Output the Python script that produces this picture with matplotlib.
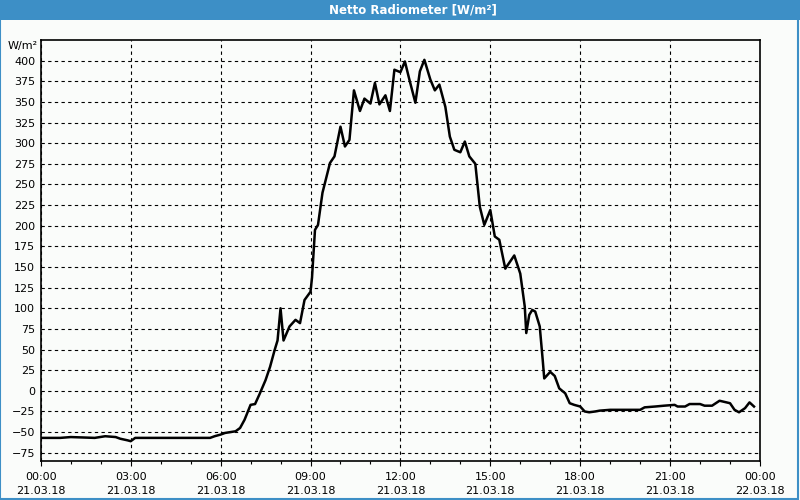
import matplotlib.pyplot as plt
from matplotlib.patches import Rectangle
from matplotlib.ticker import MultipleLocator

# time in hours since 21.03.18 00:00, net radiation in W/m²
hours = [0.0, 0.65, 1.0, 1.8, 2.15, 2.5, 2.65, 2.9, 3.0, 3.15, 3.65, 4.3, 5.5,
         5.65, 5.8, 6.0, 6.15, 6.5, 6.65, 6.8, 7.0, 7.15, 7.3, 7.5, 7.65, 7.8,
         7.9, 8.0, 8.1, 8.3, 8.5, 8.65, 8.8, 9.0, 9.05, 9.15, 9.25, 9.4, 9.65,
         9.8, 10.0, 10.15, 10.3, 10.45, 10.65, 10.8, 11.0, 11.15, 11.3, 11.5,
         11.65, 11.8, 12.0, 12.15, 12.3, 12.5, 12.65, 12.8, 13.0, 13.15, 13.3,
         13.5, 13.65, 13.8, 14.0, 14.15, 14.3, 14.5, 14.65, 14.8, 15.0, 15.15,
         15.3, 15.5, 15.65, 15.8, 16.0, 16.15, 16.2, 16.3, 16.4, 16.5, 16.65,
         16.75, 16.8, 17.0, 17.15, 17.3, 17.5, 17.65, 17.8, 18.0, 18.15, 18.3,
         18.5, 18.65, 19.0, 20.0, 20.15, 20.5, 20.8, 21.15, 21.25, 21.5, 21.65,
         22.0, 22.15, 22.4, 22.65, 23.0, 23.15, 23.3, 23.5, 23.65, 23.8]
values = [-57, -57, -56, -57, -55, -56, -58, -60, -61, -57, -57, -57, -57,
          -57, -55, -53, -51, -49, -45, -35, -17, -16, -4, 13, 29, 49,
          61, 100, 61, 78, 86, 82, 110, 120, 137, 195, 201, 240, 276,
          284, 320, 296, 304, 364, 339, 354, 348, 373, 347, 358,
          339, 389, 386, 399, 377, 349, 387, 401, 377, 364, 371,
          344, 308, 292, 289, 302, 284, 275, 223, 201, 219, 187,
          183, 148, 156, 164, 142, 102, 70, 92, 98, 96, 78,
          37, 15, 23, 18, 3, -3, -15, -17, -19, -25, -26,
          -25, -24, -23, -23, -20, -19, -18, -17, -19, -19, -16,
          -16, -18, -18, -12, -15, -23, -26, -21, -14, -19]

tick_hours = [0, 3, 6, 9, 12, 15, 18, 21, 24]
tick_labels = ["00:00\n21.03.18", "03:00\n21.03.18", "06:00\n21.03.18",
               "09:00\n21.03.18", "12:00\n21.03.18", "15:00\n21.03.18",
               "18:00\n21.03.18", "21:00\n21.03.18", "00:00\n22.03.18"]

bg = "#fafcfa"
blue = "#3d8fc6"

fig = plt.figure(figsize=(8, 5), dpi=100, facecolor=bg)

# title bar and window frame
fig.patches.append(Rectangle((0, 0.96), 1, 0.04, transform=fig.transFigure,
                             facecolor=blue, edgecolor="none"))
fig.patches.append(Rectangle((0, 0.003), 0.998, 0.997, transform=fig.transFigure,
                             facecolor="none", edgecolor=blue, linewidth=1.5))
fig.text(0.516, 0.98, "Netto Radiometer [W/m²]", color="white",
         fontsize=8.5, fontweight="bold", ha="center", va="center")

ax = fig.add_axes([0.051, 0.078, 0.899, 0.842], facecolor=bg)
ax.plot(hours, values, color="black", linewidth=1.8)

ax.set_xlim(0, 24)
ax.set_ylim(-85, 425)
ax.set_xticks(tick_hours)
ax.set_xticklabels(tick_labels, fontsize=8, linespacing=1.6)
ax.xaxis.set_minor_locator(MultipleLocator(1))
ax.set_yticks(range(-75, 401, 25))
ax.tick_params(axis="y", labelsize=8, length=0, pad=4)
ax.tick_params(axis="x", which="major", length=3.6, width=0.8, pad=4)
ax.tick_params(axis="x", which="minor", length=2.2, width=0.8)

ax.grid(True, which="major", color="black", linestyle=(0, (3, 3)), linewidth=0.8)

for spine in ax.spines.values():
    spine.set_linewidth(1.2)

fig.text(0.047, 0.908, "W/m²", fontsize=8, ha="right", va="center")

fig.savefig("out.png", dpi=100, facecolor=bg)
